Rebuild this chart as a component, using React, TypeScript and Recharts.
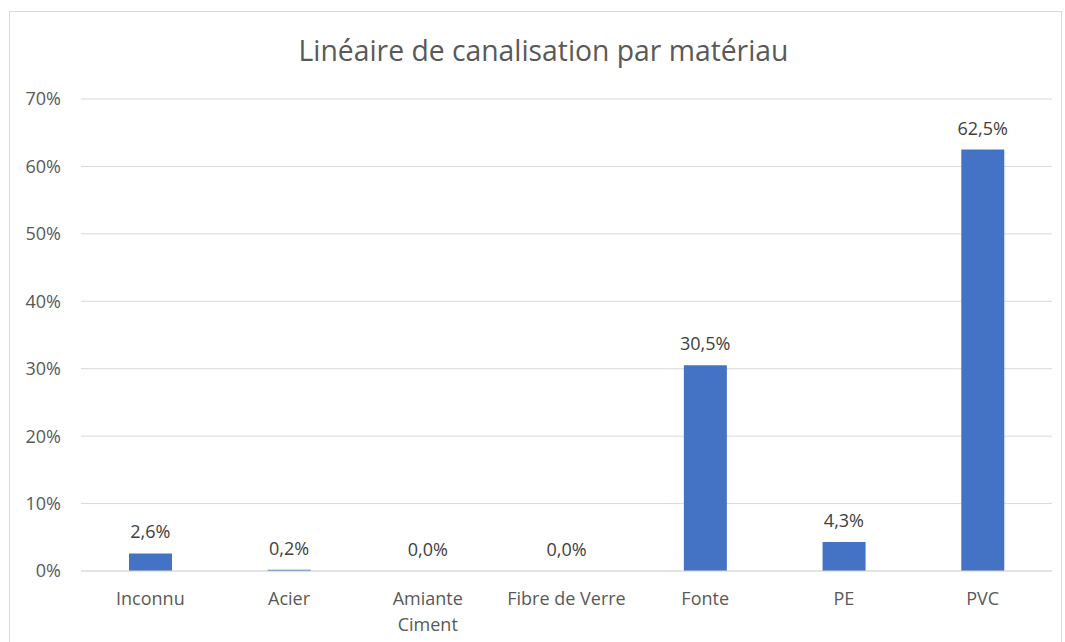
import React from 'react';
import { ComposedChart, Bar, Line, XAxis, YAxis, CartesianGrid, LabelList } from 'recharts';

const categories = ['Inconnu', 'Acier', 'Amiante Ciment', 'Fibre de Verre', 'Fonte', 'PE', 'PVC'];
const tickLines = [['Inconnu'], ['Acier'], ['Amiante', 'Ciment'], ['Fibre de Verre'], ['Fonte'], ['PE'], ['PVC']];
const shares = [2.6, 0.2, 0.0, 0.0, 30.5, 4.3, 62.5];
const yTicks = [0, 10, 20, 30, 40, 50, 60, 70];

const FONT = '"Open Sans", sans-serif';

const data = categories.map((c, i) => ({ name: c, value: shares[i] }));

const CategoryTick = (props: any) => {
    const { x, y, index } = props;
    const lines = tickLines[index] || [props.payload.value];
    return (
        <text x={x} y={y} textAnchor="middle" fill="#595959" fontSize={18} fontFamily={FONT}>
            {lines.map((l: string, i: number) => (
                <tspan key={i} x={x} dy={26}>{l}</tspan>
            ))}
        </text>
    );
};

const pct = (v: any) => `${Number(v).toFixed(1).replace('.', ',')}%`;

export default function App() {
    return (
        <div style={{ position: 'absolute', left: 0, top: 0, width: 1065, height: 642, background: '#fff', fontFamily: FONT }}>
            <div style={{ position: 'absolute', left: 9, top: 11, width: 1053, height: 640, border: '1px solid #d9d9d9', boxSizing: 'border-box' }} />
            <div style={{ position: 'absolute', left: 0, top: 31, width: 1087, textAlign: 'center', fontSize: 28.3, color: '#595959' }}>
                Linéaire de canalisation par matériau
            </div>
            <ComposedChart width={1065} height={642} data={data} margin={{ top: 99, right: 13, bottom: 41, left: 0 }} style={{ position: 'absolute', left: 0, top: 0 }}>
                <CartesianGrid vertical={false} stroke="#d9d9d9" strokeWidth={1} />
                <XAxis dataKey="name" tick={<CategoryTick />} axisLine={{ stroke: '#d9d9d9' }} tickLine={false} interval={0} height={30} />
                <YAxis width={81} domain={[0, 70]} ticks={yTicks} tickFormatter={(v: number) => `${v}%`} axisLine={false} tickLine={false} tickMargin={14}
                    tick={{ fill: '#595959', fontSize: 18, fontFamily: FONT }} />
                <Bar dataKey="value" fill="#4472C4" barSize={43} isAnimationActive={false} />
                <Line dataKey="value" stroke="none" dot={false} activeDot={false} legendType="none" isAnimationActive={false}>
                    <LabelList dataKey="value" position="top" offset={15} fill="#404040" fontSize={18} fontFamily={FONT} formatter={pct} />
                </Line>
            </ComposedChart>
        </div>
    );
}
